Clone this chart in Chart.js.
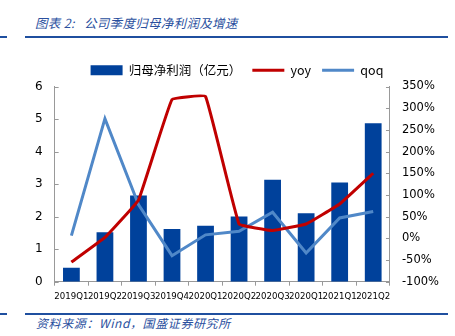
<!DOCTYPE html>
<html>
<head>
<meta charset="utf-8">
<script src="https://cdn.jsdelivr.net/npm/chart.js@4"></script>
<style>
  body { margin: 0; width: 455px; height: 336px; background: #fff; position: relative; overflow: hidden; }
  .title { position: absolute; left: 35px; top: 13px; font: italic 12.5px "Noto Sans CJK SC"; letter-spacing: 0.3px; color: #2a4f9e; white-space: nowrap; }
  .rule { position: absolute; height: 2px; background: #1f4f9f; }
  .source { position: absolute; left: 36px; top: 314px; font: italic 12px "Noto Sans CJK SC"; letter-spacing: 0.6px; color: #2a4f9e; white-space: nowrap; }
  #wrap { position: absolute; left: 0; top: 53px; width: 455px; height: 255px; }
</style>
</head>
<body>
<div class="title">图表 2:&nbsp;&nbsp;&nbsp;公司季度归母净利润及增速</div>
<div class="rule" style="left:0;top:36px;width:7px"></div>
<div class="rule" style="left:25px;top:36px;width:423px"></div>
<div id="wrap"><canvas id="combo-chart"></canvas></div>
<div class="rule" style="left:0;top:313px;width:7px"></div>
<div class="rule" style="left:25px;top:313px;width:423px"></div>
<div class="source">资料来源：Wind，国盛证券研究所</div>

<script>
const quarters = ["2019Q1", "2019Q2", "2019Q3", "2019Q4", "2020Q1", "2020Q2", "2020Q3", "2020Q1", "2021Q1", "2021Q2"];
const netProfit = [0.43, 1.52, 2.65, 1.62, 1.72, 2.0, 3.13, 2.1, 3.05, 4.87];
const yoy = [-55, 2, 88, 320, 327, 33, 18, 33, 79, 150];
const qoq = [6, 276, 78, -40, 8, 16, 60, -34, 47, 62];

const leftTicks = [0, 1, 2, 3, 4, 5, 6];
const rightTicks = [-100, -50, 0, 50, 100, 150, 200, 250, 300, 350];

// small inner tick marks on both value axes
const innerTicks = {
    id: 'innerTicks',
    afterDraw(chart) {
        const ctx = chart.ctx;
        const left = chart.scales.y;
        const right = chart.scales.y1;
        ctx.save();
        ctx.strokeStyle = '#999';
        ctx.lineWidth = 1;
        ctx.beginPath();
        leftTicks.forEach(v => {
            const y = Math.round(left.getPixelForValue(v)) + 0.5;
            ctx.moveTo(left.right, y);
            ctx.lineTo(left.right + 4, y);
        });
        rightTicks.forEach(v => {
            const y = Math.round(right.getPixelForValue(v)) + 0.5;
            ctx.moveTo(right.left - 4, y);
            ctx.lineTo(right.left, y);
        });
        ctx.stroke();
        ctx.restore();
    }
};

function buildChart() {
    const ctx = document.getElementById('combo-chart').getContext('2d');
    return new Chart(ctx, {
        type: 'bar',
        data: {
            labels: quarters,
            datasets: [{
                type: 'bar',
                label: '归母净利润（亿元）',
                data: netProfit,
                backgroundColor: '#00419b',
                borderWidth: 0,
                barPercentage: 0.5,
                categoryPercentage: 1,
                yAxisID: 'y',
                order: 3
            }, {
                type: 'line',
                label: 'yoy',
                data: yoy,
                borderColor: '#c00000',
                backgroundColor: '#c00000',
                borderWidth: 3,
                pointRadius: 0,
                tension: 0.07,
                yAxisID: 'y1',
                order: 1
            }, {
                type: 'line',
                label: 'qoq',
                data: qoq,
                borderColor: '#5088c8',
                backgroundColor: '#5088c8',
                borderWidth: 3,
                pointRadius: 0,
                tension: 0,
                yAxisID: 'y1',
                order: 2
            }]
        },
        options: {
            responsive: true,
            maintainAspectRatio: false,
            animation: false,
            layout: { padding: { top: 0, left: 23, right: 4, bottom: 0 } },
            plugins: {
                tooltip: { enabled: false },
                legend: {
                    labels: {
                        usePointStyle: true,
                        pointStyleWidth: 32,
                        boxHeight: 10,
                        padding: 11,
                        color: '#000',
                        font: { family: '"Noto Sans CJK SC", "DejaVu Sans"', size: 12.5 },
                        sort: (a, b) => a.datasetIndex - b.datasetIndex,
                        generateLabels(chart) {
                            const items = Chart.defaults.plugins.legend.labels.generateLabels(chart);
                            items.forEach(it => {
                                it.pointStyle = it.datasetIndex === 0 ? 'rect' : 'line';
                                it.lineWidth = it.datasetIndex === 0 ? 0 : 3;
                            });
                            return items;
                        }
                    }
                }
            },
            scales: {
                x: {
                    grid: { display: true, drawOnChartArea: false, offset: true, tickLength: 4, color: '#999' },
                    border: { color: '#999' },
                    ticks: {
                        autoSkip: false, maxRotation: 0, padding: 6, color: '#000',
                        font: { family: '"DejaVu Sans"', size: 8.6 }
                    }
                },
                y: {
                    position: 'left',
                    min: 0, max: 6,
                    grid: { display: false, drawTicks: false },
                    border: { color: '#999' },
                    ticks: {
                        stepSize: 1, padding: 12, color: '#000',
                        font: { family: '"DejaVu Sans"', size: 12 }
                    }
                },
                y1: {
                    position: 'right',
                    min: -100, max: 350,
                    grid: { display: false, drawTicks: false },
                    border: { color: '#999' },
                    ticks: {
                        stepSize: 50, padding: 12, color: '#000',
                        font: { family: '"DejaVu Sans"', size: 11.5 },
                        callback: v => v + '%'
                    }
                }
            }
        },
        plugins: [innerTicks]
    });
}

document.addEventListener('DOMContentLoaded', buildChart);
</script>
</body>
</html>
